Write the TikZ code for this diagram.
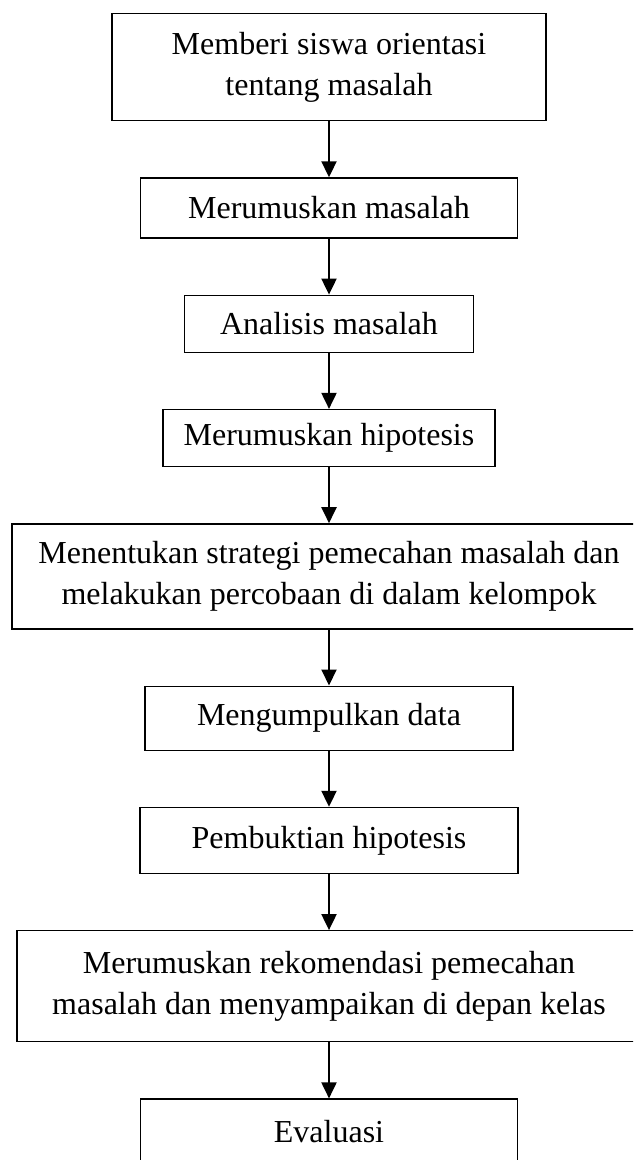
\documentclass[tikz,border=0pt]{standalone}
\usepackage{fontspec}
\setmainfont{Liberation Serif}
\usetikzlibrary{positioning}
\usetikzlibrary{arrows.meta}

\begin{document}
\begin{tikzpicture}
[auto,
node distance=28pt,
block/.style = {rectangle, draw, line width=0.65pt, align=center, inner sep=0pt, font=\fontsize{16pt}{20.5pt}\selectfont},
line/.style  = {draw, line width=1pt, -{Triangle[length=8pt,width=7.5pt]}}
]

\useasboundingbox (0,0) rectangle (316.5pt,-580pt);
\clip (0,0) rectangle (316.5pt,-580pt);

% langkah-langkah
\node [block, minimum width=217pt, minimum height=53.5pt, anchor=north] (orientasi) at (164.5pt,-6.5pt) {Memberi siswa orientasi\\tentang masalah};
\node [block, minimum width=188.5pt, minimum height=30pt, below=of orientasi] (rumus_masalah) {Merumuskan masalah};
\node [block, minimum width=144.5pt, minimum height=28.5pt, below=of rumus_masalah] (analisis) {Analisis masalah};
\node [block, minimum width=166pt, minimum height=28.5pt, below=of analisis] (hipotesis) {Merumuskan hipotesis};
\node [block, minimum width=317pt, minimum height=52.5pt, below=of hipotesis] (strategi) {Menentukan strategi pemecahan masalah dan\\melakukan percobaan di dalam kelompok};
\node [block, minimum width=184pt, minimum height=32pt, below=of strategi] (data) {Mengumpulkan data};
\node [block, minimum width=189pt, minimum height=33pt, below=of data] (pembuktian) {Pembuktian hipotesis};
\node [block, minimum width=312pt, minimum height=55.5pt, below=of pembuktian] (rekomendasi) {Merumuskan rekomendasi pemecahan\\masalah dan menyampaikan di depan kelas};
\node [block, minimum width=188.5pt, text height=21.5pt, text depth=18.5pt, below=of rekomendasi] (evaluasi) {Evaluasi};

\begin{scope}[every path/.style=line]
\path (orientasi) -- (rumus_masalah);
\path (rumus_masalah) -- (analisis);
\path (analisis) -- (hipotesis);
\path (hipotesis) -- (strategi);
\path (strategi) -- (data);
\path (data) -- (pembuktian);
\path (pembuktian) -- (rekomendasi);
\path (rekomendasi) -- (evaluasi);
\end{scope}

\end{tikzpicture}
\end{document}
